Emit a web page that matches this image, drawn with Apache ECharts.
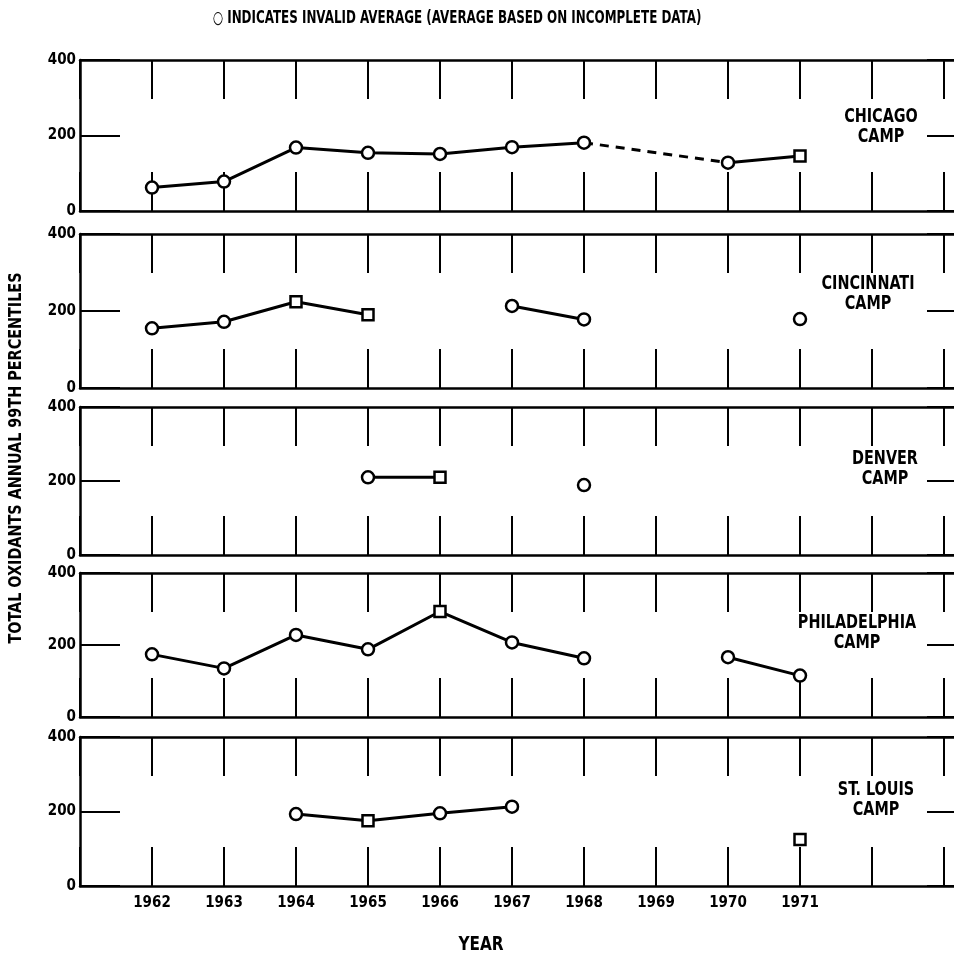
<!DOCTYPE html>
<html>
<head>
<meta charset="utf-8">
<script src="https://cdn.jsdelivr.net/npm/echarts@6/dist/echarts.min.js"></script>
<style>
  html, body { margin: 0; padding: 0; background: #fff; }
  #chart { width: 954px; height: 956px; }
</style>
</head>
<body>
<div id="chart"></div>
<script>
// ---- data ----
const YEARS = [1962, 1963, 1964, 1965, 1966, 1967, 1968, 1969, 1970, 1971];
const Y_TICKS = [0, 200, 400];

// 'o' = invalid average (circle), 's' = valid average (square)
const CHICAGO           = [62, 78, 168, 154, 151, 169, 181, null, 128, 146];
const CHICAGO_MARK      = ['o', 'o', 'o', 'o', 'o', 'o', 'o', null, 'o', 's'];
const CHICAGO_DASHED    = [1968, 1970];

const CINCINNATI        = [155, 172, 224, 190, null, 213, 178, null, null, 179];
const CINCINNATI_MARK   = ['o', 'o', 's', 's', null, 'o', 'o', null, null, 'o'];

const DENVER            = [null, null, null, 210, 210, null, 189, null, null, null];
const DENVER_MARK       = [null, null, null, 'o', 's', null, 'o', null, null, null];

const PHILADELPHIA      = [174, 135, 228, 188, 293, 207, 163, null, 166, 115];
const PHILADELPHIA_MARK = ['o', 'o', 'o', 'o', 's', 'o', 'o', null, 'o', 'o'];

const ST_LOUIS          = [null, null, 193, 175, 195, 213, null, null, null, 125];
const ST_LOUIS_MARK     = [null, null, 'o', 's', 'o', 'o', null, null, null, 's'];

const CAMPS = [
  { label: 'CHICAGO\nCAMP',      values: CHICAGO,      marks: CHICAGO_MARK, dashed: CHICAGO_DASHED },
  { label: 'CINCINNATI\nCAMP',   values: CINCINNATI,   marks: CINCINNATI_MARK },
  { label: 'DENVER\nCAMP',       values: DENVER,       marks: DENVER_MARK },
  { label: 'PHILADELPHIA\nCAMP', values: PHILADELPHIA, marks: PHILADELPHIA_MARK },
  { label: 'ST. LOUIS\nCAMP',    values: ST_LOUIS,     marks: ST_LOUIS_MARK },
];

const NOTE = '\u25CB INDICATES INVALID AVERAGE (AVERAGE BASED ON INCOMPLETE DATA)';
const Y_TITLE = 'TOTAL OXIDANTS ANNUAL 99TH PERCENTILES';
const X_TITLE = 'YEAR';

// ---- layout ----
const FONT = '"DejaVu Sans Condensed", "Liberation Sans Narrow", sans-serif';
const GRID_LEFT = 80, GRID_RIGHT = -20, PX_PER_YEAR = 72;
const X_MIN = 1961;
const X_MAX = X_MIN + (954 - GRID_RIGHT - GRID_LEFT) / PX_PER_YEAR;   // plot runs off the right edge
const PANEL_BOX = [                          // top / height of each panel in px, label centre
  { top: 60,  height: 151, lx: 881, ly: 127 },
  { top: 234, height: 154, lx: 868, ly: 294 },
  { top: 407, height: 148, lx: 885, ly: 469 },
  { top: 573, height: 144, lx: 857, ly: 633 },
  { top: 737, height: 149, lx: 876, ly: 800 },
];

const chart = echarts.init(document.getElementById('chart'), null, { renderer: 'canvas' });

const grid = [], xAxis = [], yAxis = [], series = [], graphic = [];
const black = '#000';

CAMPS.forEach((camp, i) => {
  const box = PANEL_BOX[i];
  grid.push({
    left: GRID_LEFT, right: GRID_RIGHT, top: box.top, height: box.height,
    containLabel: false, outerBoundsMode: 'none',
  });

  const xBase = {
    gridIndex: i, type: 'value', min: X_MIN, max: X_MAX,
    minInterval: 1, maxInterval: 1,
    splitLine: { show: false },
    axisLine: { onZero: false, lineStyle: { color: black, width: 2.5 } },
    axisTick: { inside: true, length: 39, lineStyle: { color: black, width: 2 } },
  };
  // bottom axis (ticks pointing up), labels only on last panel
  xAxis.push(Object.assign({}, xBase, {
    position: 'bottom',
    axisLabel: i === CAMPS.length - 1 ? {
      margin: 10, color: black, fontFamily: FONT, fontWeight: 'bold', fontSize: 15,
      formatter: v => (Number.isInteger(v) && YEARS.includes(v)) ? String(v) : ''
    } : { show: false },
  }));
  // top axis (ticks pointing down)
  xAxis.push(Object.assign({}, xBase, { position: 'top', axisLabel: { show: false } }));

  yAxis.push({
    gridIndex: i, type: 'value', min: Y_TICKS[0], max: Y_TICKS[2], interval: Y_TICKS[1],
    position: 'left', splitLine: { show: false },
    axisLine: { onZero: false, lineStyle: { color: black, width: 2.5 } },
    axisTick: { inside: true, length: 40, lineStyle: { color: black, width: 2 } },
    axisLabel: { margin: 4, color: black, fontFamily: FONT, fontWeight: 'bold', fontSize: 15 },
  });
  yAxis.push({
    gridIndex: i, type: 'value', min: Y_TICKS[0], max: Y_TICKS[2], interval: Y_TICKS[1],
    position: 'right', splitLine: { show: false },
    axisLine: { show: false, onZero: false },
    axisTick: { inside: true, length: 47, lineStyle: { color: black, width: 2 } },
    axisLabel: { show: false },
  });

  const data = YEARS.map((yr, k) => {
    const v = camp.values[k];
    if (v == null) return { value: [yr, '-'] };
    const sq = camp.marks[k] === 's';
    return { value: [yr, v], symbol: sq ? 'rect' : 'circle', symbolSize: sq ? 11 : 12 };
  });
  series.push({
    type: 'line', xAxisIndex: 2 * i, yAxisIndex: 2 * i, data,
    connectNulls: false, showSymbol: true, z: 5,
    lineStyle: { color: black, width: 3 },
    itemStyle: { color: '#fff', borderColor: black, borderWidth: 2.5 },
  });

  if (camp.dashed) {
    const dd = camp.dashed.map(yr => [yr, camp.values[YEARS.indexOf(yr)]]);
    series.push({
      type: 'line', xAxisIndex: 2 * i, yAxisIndex: 2 * i, data: dd,
      symbol: 'none', z: 4,
      lineStyle: { color: black, width: 3, type: [9, 7] },
    });
  }

  graphic.push({
    type: 'text', x: box.lx, y: box.ly, scaleX: 0.8,
    style: {
      text: camp.label, fill: black, font: 'bold 20px ' + FONT,
      textAlign: 'center', textVerticalAlign: 'middle', lineHeight: 20,
    },
  });
});

graphic.push({
  type: 'text', x: 457, y: 19, scaleX: 0.78,
  style: { text: NOTE, fill: black, font: 'bold 17px ' + FONT, textAlign: 'center', textVerticalAlign: 'middle' },
});
graphic.push({
  type: 'text', x: 17, y: 458, rotation: Math.PI / 2, scaleX: 0.94,
  style: { text: Y_TITLE, fill: black, font: 'bold 17px ' + FONT, textAlign: 'center', textVerticalAlign: 'middle' },
});
graphic.push({
  type: 'text', x: 481, y: 945, scaleX: 0.85,
  style: { text: X_TITLE, fill: black, font: 'bold 20px ' + FONT, textAlign: 'center', textVerticalAlign: 'middle' },
});

chart.setOption({
  animation: false,
  backgroundColor: '#fff',
  grid, xAxis, yAxis, series, graphic,
});
</script>
</body>
</html>
